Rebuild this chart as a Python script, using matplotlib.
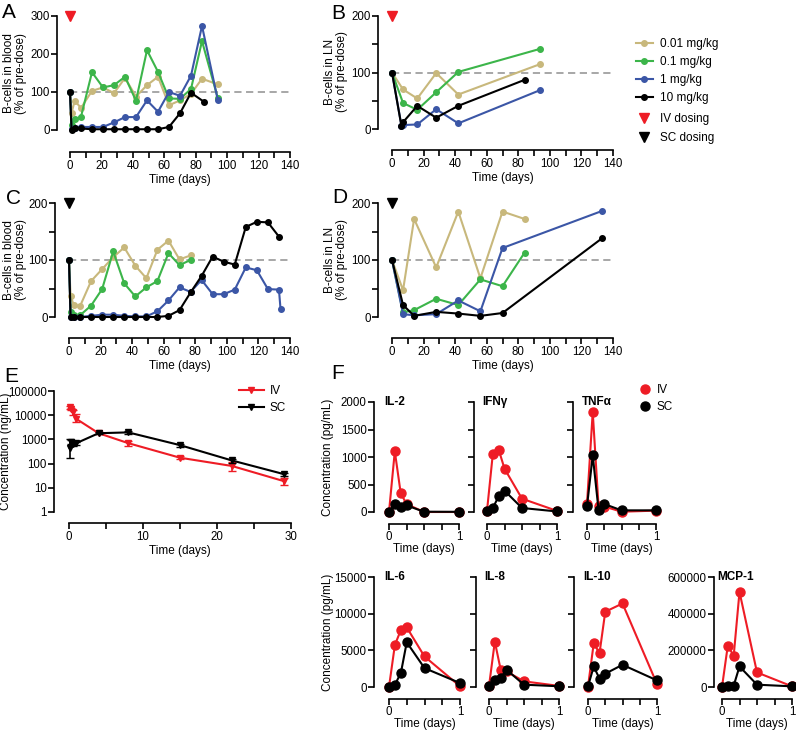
import numpy as np
import matplotlib
matplotlib.use("Agg")
import matplotlib.pyplot as plt
from matplotlib.lines import Line2D
from matplotlib.ticker import MultipleLocator, FixedLocator, FixedFormatter, NullLocator

plt.rcParams.update({
    "font.family": ["Liberation Sans", "DejaVu Sans"],
    "font.size": 8.5,
    "xtick.labelsize": 8.3,
    "ytick.labelsize": 8.3,
    "axes.linewidth": 1.2,
    "xtick.major.width": 1.2,
    "ytick.major.width": 1.2,
    "xtick.minor.width": 1.2,
    "ytick.minor.width": 1.2,
    "xtick.major.size": 4,
    "ytick.major.size": 4,
    "xtick.minor.size": 4,
    "ytick.minor.size": 4,
    "xtick.major.pad": 1.5,
    "ytick.major.pad": 1.2,
})

TAN = "#c8b87c"
GREEN = "#3cb54a"
BLUE = "#3b56a6"
BLACK = "#000000"
RED = "#ee1c25"
GREY = "#a0a0a0"

# ---- A: B-cells in blood, IV ----
a_days = [0, 1, 3, 7, 14, 21, 28, 35, 42, 49, 56, 63, 70, 77, 84, 94]
a_tan = [100, 45, 77, 58, 103, 112, 97, 137, 88, 118, 140, 65, 78, 95, 135, 120]
a_green = [100, 13, 28, 35, 152, 112, 118, 140, 77, 210, 153, 83, 82, 108, 234, 85]
a_blue = [100, 2, 5, 8, 8, 8, 20, 34, 34, 78, 48, 100, 90, 143, 274, 80]
a_black_days = [0, 1, 3, 7, 14, 21, 28, 35, 42, 49, 56, 63, 70, 77, 85]
a_black = [100, 0, 4, 4, 2, 2, 2, 2, 2, 2, 2, 8, 44, 98, 75]

# ---- B: B-cells in LN, IV ----
b_days = [0, 7, 16, 28, 42, 94]
b_tan = [100, 70, 54, 99, 61, 115]
b_green = [100, 46, 34, 65, 101, 142]
b_blue_days = [0, 6, 7, 16, 28, 42, 94]
b_blue = [100, 6, 7, 8, 35, 10, 69]
b_black_days = [0, 6, 7, 16, 28, 42, 84]
b_black = [100, 5, 12, 41, 20, 41, 87]

# ---- C: B-cells in blood, SC ----
c_days = [0, 1, 3, 7, 14, 21, 28, 35, 42, 49, 56, 63, 70, 77]
c_tan = [100, 37, 21, 19, 63, 84, 105, 122, 90, 68, 118, 134, 101, 108]
c_green = [100, 9, 3, 3, 20, 49, 115, 59, 36, 52, 63, 112, 91, 100]
c_long_days = [0, 1, 3, 7, 14, 21, 28, 35, 42, 49, 56, 63, 70, 77, 84, 91, 98, 105, 112, 119, 126, 133]
c_black = [100, 0, 0, 0, 0, 0, 0, 0, 0, 0, 0, 2, 12, 43, 72, 106, 97, 92, 158, 167, 166, 141]
c_blue_days = c_long_days + [134]
c_blue = [100, 0, 0, 0, 2, 4, 4, 2, 1, 1, 10, 29, 52, 44, 65, 40, 40, 48, 87, 82, 49, 48, 14]

# ---- D: B-cells in LN, SC ----
d_days = [0, 7, 14, 28, 42, 56, 70, 84]
d_tan = [100, 47, 172, 87, 185, 68, 185, 172]
d_green = [100, 8, 12, 32, 21, 66, 54, 113]
d_long_days = [0, 7, 14, 28, 42, 56, 70, 133]
d_blue = [100, 5, 3, 5, 29, 10, 121, 186]
d_black = [100, 21, 2, 9, 6, 2, 7, 138]

# ---- E: PK ----
e_days = [0.083, 0.25, 0.5, 1, 4, 8, 15, 22, 29]
e_iv = [21000, 18000, 13000, 7000, 1800, 700, 175, 80, 19]
e_iv_lo = [3000, 2000, 3000, 2000, 200, 170, 25, 30, 6]
e_iv_hi = [3000, 2000, 3000, 4000, 200, 200, 25, 40, 7]
e_sc = [450, 800, 650, 700, 1800, 1950, 580, 135, 37]
e_sc_lo = [280, 150, 100, 100, 200, 200, 80, 25, 5]
e_sc_hi = [550, 150, 100, 100, 200, 300, 80, 25, 5]

# ---- F: cytokines ----
f_t = [0, 0.083, 0.167, 0.25, 0.5, 1]
il2_iv = [0, 1103, 345, 145, 0, 0]
il2_sc = [5, 145, 100, 120, 5, 3]
ifng_iv = [20, 1055, 1133, 788, 242, 20]
ifng_sc = [12, 73, 285, 388, 73, 10]
tnfa_iv = [150, 1818, 110, 100, 5, 25]
tnfa_sc = [103, 1030, 42, 145, 30, 30]
il6_iv = [0, 5740, 7770, 8130, 4160, 100]
il6_sc = [0, 316, 1900, 6100, 2575, 540]
il8_iv = [100, 6190, 2350, 2120, 770, 150]
il8_sc = [90, 1000, 1220, 2350, 316, 100]
il10_iv = [45, 5960, 4610, 10260, 11390, 400]
il10_sc = [90, 2800, 1130, 1810, 3030, 900]
mcp1_iv = [0, 226000, 170000, 518700, 79500, 3600]
mcp1_sc = [0, 7000, 7000, 112000, 12650, 3600]

W, H = 796, 732
fig = plt.figure(figsize=(W / 100, H / 100), dpi=100)


def box(l, t, r, b):
    return fig.add_axes([l / W, 1 - b / H, (r - l) / W, (b - t) / H])


def prism(ax, left_px, bottom_px):
    # offset spines, GraphPad style
    ax.spines["top"].set_visible(False)
    ax.spines["right"].set_visible(False)
    ax.spines["left"].set_position(("outward", left_px * 0.72))
    ax.spines["bottom"].set_position(("outward", bottom_px * 0.72))
    ax.patch.set_visible(False)
    ax.tick_params(which="both", direction="out")


def fx(px):
    return px / W


def fy(py):
    return 1 - py / H


def line(ax, x, y, c, ms=4, z=3):
    ax.plot(x, y, color=c, lw=1.5, marker="o", ms=ms, mec=c, clip_on=False, zorder=z)


def bcell_panel(ax, ymax, yminor):
    ax.set_xlim(0, 140)
    ax.set_ylim(0, ymax)
    ax.xaxis.set_major_locator(MultipleLocator(20))
    ax.xaxis.set_minor_locator(MultipleLocator(10))
    ax.yaxis.set_major_locator(MultipleLocator(100))
    if yminor:
        ax.yaxis.set_minor_locator(MultipleLocator(50))
    ax.plot([0, 140], [100, 100], ls=(0, (4, 2.5)), color=GREY, lw=1.3, zorder=1)
    ax.set_xlabel("Time (days)", labelpad=2)


# A
axA = box(70, 16, 290, 130)
prism(axA, 13, 22)
bcell_panel(axA, 300, False)
line(axA, a_days, a_tan, TAN)
line(axA, a_days, a_green, GREEN)
line(axA, a_days, a_blue, BLUE)
line(axA, a_black_days, a_black, BLACK, z=4)
axA.plot([0], [300], marker="v", color=RED, ms=7, ls="none", clip_on=False)

# B
axB = box(392, 16, 613, 129)
prism(axB, 14, 21)
bcell_panel(axB, 200, True)
line(axB, b_days, b_tan, TAN)
line(axB, b_days, b_green, GREEN)
line(axB, b_blue_days, b_blue, BLUE)
line(axB, b_black_days, b_black, BLACK, z=4)
axB.plot([0], [200], marker="v", color=RED, ms=7, ls="none", clip_on=False)

# C
axC = box(69, 203, 290, 317)
prism(axC, 14, 21)
bcell_panel(axC, 200, True)
line(axC, c_days, c_tan, TAN)
line(axC, c_days, c_green, GREEN)
line(axC, c_blue_days, c_blue, BLUE)
line(axC, c_long_days, c_black, BLACK, z=4)
axC.plot([0], [200], marker="v", color=BLACK, ms=7, ls="none", clip_on=False)

# D
axD = box(392, 203, 613, 317)
prism(axD, 14, 21)
bcell_panel(axD, 200, True)
line(axD, d_days, d_tan, TAN)
line(axD, d_days, d_green, GREEN)
line(axD, d_long_days, d_blue, BLUE)
line(axD, d_long_days, d_black, BLACK, z=4)
axD.plot([0], [200], marker="v", color=BLACK, ms=7, ls="none", clip_on=False)

# E
axE = box(69, 391, 291, 512)
prism(axE, 15, 11)
axE.set_yscale("log")
axE.set_xlim(0, 30)
axE.set_ylim(1, 1e5)
axE.xaxis.set_major_locator(MultipleLocator(10))
axE.xaxis.set_minor_locator(MultipleLocator(5))
yt = [1, 10, 100, 1000, 10000, 100000]
axE.yaxis.set_major_locator(FixedLocator(yt))
axE.yaxis.set_major_formatter(FixedFormatter([str(v) for v in yt]))
axE.yaxis.set_minor_locator(NullLocator())
axE.errorbar(e_days, e_iv, yerr=[e_iv_lo, e_iv_hi], color=RED, lw=1.5, marker="v", ms=5,
             capsize=3, elinewidth=1.2, clip_on=False, zorder=3)
axE.errorbar(e_days, e_sc, yerr=[e_sc_lo, e_sc_hi], color=BLACK, lw=1.5, marker="v", ms=5,
             capsize=3, elinewidth=1.2, clip_on=False, zorder=4)
axE.set_xlabel("Time (days)", labelpad=2)

# F cytokines
cyto = [
    ("IL-2", (389, 402, 459, 512), 15, il2_iv, il2_sc, 2000, 500, True),
    ("IFNγ", (487, 402, 557, 512), 13, ifng_iv, ifng_sc, 2000, 500, False),
    ("TNFα", (587, 402, 656, 512), 14, tnfa_iv, tnfa_sc, 2000, 500, False),
    ("IL-6", (389, 577, 460, 687), 15, il6_iv, il6_sc, 15000, 5000, True),
    ("IL-8", (489, 577, 559, 687), 13, il8_iv, il8_sc, 15000, 5000, False),
    ("IL-10", (588, 577, 657, 687), 14, il10_iv, il10_sc, 15000, 5000, False),
    ("MCP-1", (722, 577, 792, 687), 8, mcp1_iv, mcp1_sc, 600000, 200000, True),
]
for name, (l, t, r, b), off, iv, sc, ymax, ystep, ylab in cyto:
    ax = box(l, t, r, b)
    prism(ax, off, 12)
    ax.set_xlim(0, 1)
    ax.set_ylim(0, ymax)
    ax.yaxis.set_major_locator(MultipleLocator(ystep))
    ax.yaxis.set_major_formatter(plt.FuncFormatter(lambda v, p: "%d" % v))
    if not ylab:
        ax.tick_params(axis="y", labelleft=False)
    ax.xaxis.set_major_locator(FixedLocator([0, 0.25, 0.5, 0.75, 1]))
    ax.xaxis.set_major_formatter(FixedFormatter(["0", "", "", "", "1"]))
    ax.tick_params(axis="x", pad=1)
    line(ax, f_t, iv, RED, ms=6.5, z=3)
    line(ax, f_t, sc, BLACK, ms=6.5, z=4)
    ax.text(-5 / (r - l), 1.0, name, transform=ax.transAxes, fontweight="bold",
            ha="left", va="center")
    ax.set_xlabel("Time (days)", labelpad=0)

# y labels
fig.text(fx(15), fy(73), "B-cells in blood\n(% of pre-dose)", rotation=90, ha="center", va="center",
         linespacing=1.1)
fig.text(fx(336), fy(72), "B-cells in LN\n(% of pre-dose)", rotation=90, ha="center", va="center",
         linespacing=1.1)
fig.text(fx(15), fy(260), "B-cells in blood\n(% of pre-dose)", rotation=90, ha="center", va="center",
         linespacing=1.1)
fig.text(fx(336), fy(260), "B-cells in LN\n(% of pre-dose)", rotation=90, ha="center", va="center",
         linespacing=1.1)
fig.text(fx(6), fy(451), "Concentration (ng/mL)", rotation=90, ha="center", va="center")
fig.text(fx(328), fy(457), "Concentration (pg/mL)", rotation=90, ha="center", va="center")
fig.text(fx(328), fy(632), "Concentration (pg/mL)", rotation=90, ha="center", va="center")

# panel letters
for lab, x, y in [("A", 2, 3), ("B", 331, 4), ("C", 6, 189), ("D", 332, 188), ("E", 4, 367), ("F", 331, 364)]:
    fig.text(fx(x), fy(y), lab, fontsize=15, ha="left", va="top")

# legends
dose_handles = [
    Line2D([], [], color=TAN, marker="o", ms=4, lw=1.5, label="0.01 mg/kg"),
    Line2D([], [], color=GREEN, marker="o", ms=4, lw=1.5, label="0.1 mg/kg"),
    Line2D([], [], color=BLUE, marker="o", ms=4, lw=1.5, label="1 mg/kg"),
    Line2D([], [], color=BLACK, marker="o", ms=4, lw=1.5, label="10 mg/kg"),
]
fig.legend(handles=dose_handles, loc="upper left", bbox_to_anchor=(fx(636), fy(38)), frameon=False,
           borderaxespad=0, borderpad=0, labelspacing=0.5, handlelength=1.4, handletextpad=0.6)
route_handles = [
    Line2D([], [], color=RED, marker="v", ms=7, ls="none", label="IV dosing"),
    Line2D([], [], color=BLACK, marker="v", ms=7, ls="none", label="SC dosing"),
]
fig.legend(handles=route_handles, loc="upper left", bbox_to_anchor=(fx(636), fy(113)), frameon=False,
           borderaxespad=0, borderpad=0, labelspacing=0.6, handlelength=1.4, handletextpad=0.6)
e_handles = [
    Line2D([], [], color=RED, marker="v", ms=5, lw=1.5, label="IV"),
    Line2D([], [], color=BLACK, marker="v", ms=5, lw=1.5, label="SC"),
]
fig.legend(handles=e_handles, loc="upper left", bbox_to_anchor=(fx(239), fy(385)), frameon=False,
           borderaxespad=0, borderpad=0, labelspacing=0.45, handlelength=2.1, handletextpad=0.5)
f_handles = [
    Line2D([], [], color=RED, marker="o", ms=6.5, ls="none", label="IV"),
    Line2D([], [], color=BLACK, marker="o", ms=6.5, ls="none", label="SC"),
]
fig.legend(handles=f_handles, loc="upper left", bbox_to_anchor=(fx(639), fy(384)), frameon=False,
           borderaxespad=0, borderpad=0, labelspacing=0.45, handlelength=1.0, handletextpad=0.5)

fig.savefig("out.png", dpi=100)
